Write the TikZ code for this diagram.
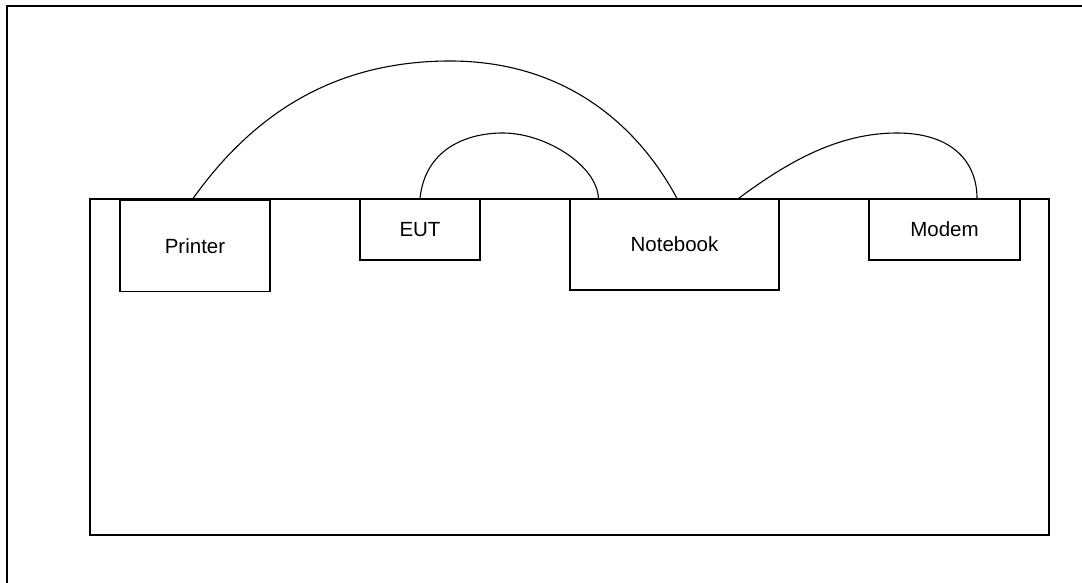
\documentclass[tikz,border=0pt]{standalone}
\usepackage{fontspec}
\setmainfont{Liberation Sans}
\usetikzlibrary{calc}
\begin{document}
\begin{tikzpicture}[x=1pt,y=-1pt,
  device/.style={draw=black,line width=1.1pt,inner sep=0pt,minimum width=#1,
    font=\fontsize{20.5}{24}\selectfont,fill=white},
  cable/.style={draw=black,line width=1.1pt},
  frame/.style={draw=black,line width=2pt},
  table/.style={draw=black,line width=1.3pt}]
\useasboundingbox (0,0) rectangle (1082,583);
\clip (0,0) rectangle (1082,583);
% outer frame (runs beyond the right and bottom edge)
\draw[frame] (7,6) rectangle (1100,600);
% table
\draw[table] (90,199) rectangle (1049,535);
% devices
\node[device=150pt,minimum height=91pt] (printer) at (195,246) {Printer};
\node[device=120pt,minimum height=61pt] (eut) at (420,229.5) {EUT};
\node[device=209pt,minimum height=91pt] (notebook) at (674.5,244.5) {Notebook};
\node[device=151pt,minimum height=61pt] (modem) at (944.5,229.5) {Modem};
\draw[table] (90,199) -- (1049,199);
% cable ends
\coordinate (pA) at ([xshift=-3pt]printer.north);
\coordinate (nA) at ([xshift=2.5pt]notebook.north);
\coordinate (eA) at (eut.north);
\coordinate (nB) at ([xshift=29pt]notebook.north west);
\coordinate (nC) at ([xshift=-41pt]notebook.north east);
\coordinate (mA) at ([xshift=32.5pt]modem.north);
\coordinate (top1) at (450,61);
\coordinate (top2) at (503,133);
\coordinate (top3) at (897,133);
% cables
\draw[cable] (pA) .. controls (250,118) and (330,61) .. (top1)
  .. controls (560,61) and (635,120) .. (nA);
\draw[cable] (eA) .. controls (425,150) and (465,133) .. (top2)
  .. controls (545,133) and (597,165) .. (nB);
\draw[cable] (nC) .. controls (790,160) and (840,133) .. (top3)
  .. controls (950,133) and (977,160) .. (mA);
\end{tikzpicture}
\end{document}
